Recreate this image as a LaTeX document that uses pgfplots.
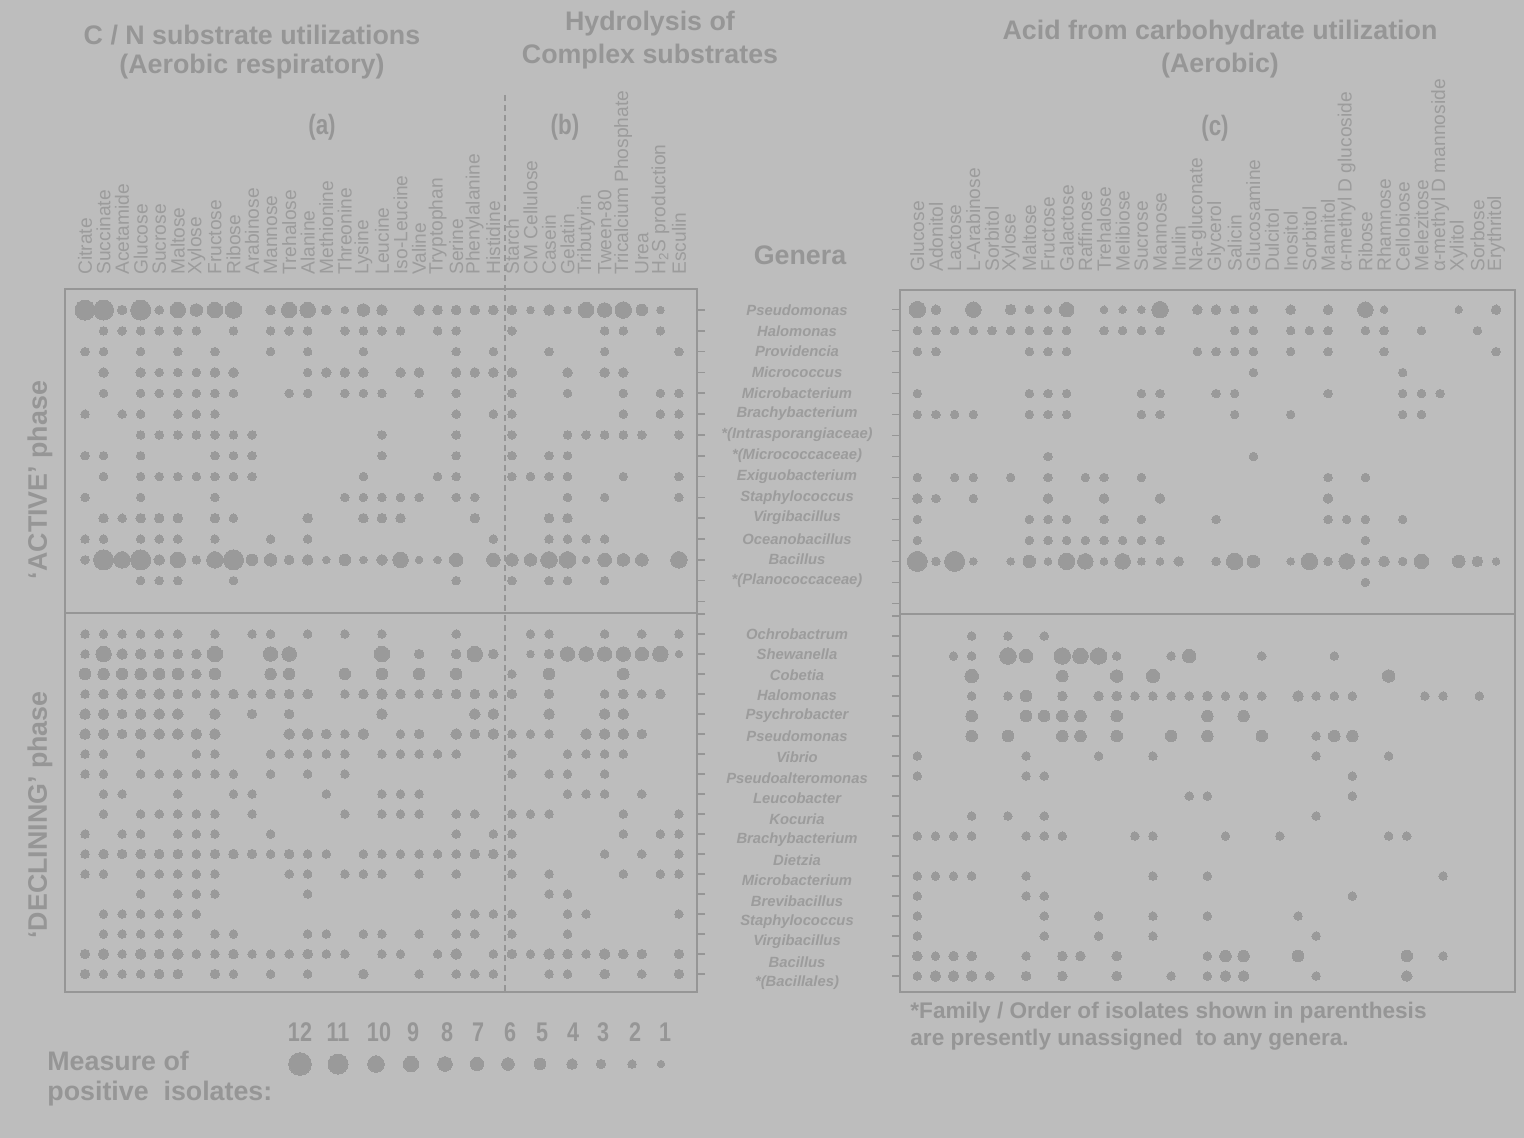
\documentclass[border=0pt]{standalone}
\usepackage{pgfplots}
\pgfplotsset{compat=1.18}
\usepackage{pgfplotstable}
\usepackage{fontspec}
\setmainfont{Liberation Sans}
\newfontfamily\narrowfont[FakeStretch=0.8]{Liberation Sans}
\definecolor{bg}{RGB}{189,189,189}
\definecolor{dotc}{RGB}{154,154,154}
\definecolor{txt}{RGB}{150,150,150}
\definecolor{lbl}{RGB}{156,156,156}
\definecolor{frm}{RGB}{150,150,150}

% left panel, active phase: c = column index (Citrate=0 ... Esculin=32), r = row, v = measure of positive isolates
\pgfplotstableread[row sep=\\]{
c r v\\
0 0 11\\1 0 11\\2 0 3\\3 0 11\\4 0 2\\5 0 9\\6 0 6\\7 0 9\\8 0 10\\10 0 3\\11 0 9\\12 0 9\\13 0 3\\14 0 1\\15 0 6\\16 0 4\\18 0 4\\19 0 3\\20 0 3\\21 0 3\\22 0 3\\23 0 3\\24 0 1\\25 0 4\\26 0 1\\27 0 9\\28 0 8\\29 0 10\\30 0 5\\31 0 1\\
1 1 2\\2 1 2\\3 1 2\\4 1 2\\5 1 2\\6 1 2\\8 1 2\\10 1 2\\11 1 2\\12 1 2\\14 1 2\\15 1 2\\16 1 2\\17 1 2\\19 1 2\\20 1 2\\23 1 2\\28 1 2\\29 1 2\\31 1 2\\
0 2 2\\1 2 2\\3 2 2\\5 2 2\\7 2 2\\10 2 2\\12 2 2\\15 2 2\\20 2 2\\22 2 2\\25 2 2\\28 2 2\\32 2 2\\
1 3 3\\3 3 3\\4 3 2\\5 3 2\\6 3 2\\7 3 3\\8 3 3\\12 3 2\\13 3 3\\14 3 3\\15 3 3\\17 3 3\\18 3 3\\20 3 3\\21 3 3\\22 3 3\\23 3 3\\26 3 3\\28 3 3\\29 3 3\\
1 4 2\\3 4 2\\4 4 2\\5 4 2\\6 4 2\\7 4 2\\8 4 2\\11 4 2\\12 4 2\\14 4 2\\15 4 2\\16 4 2\\18 4 2\\20 4 2\\23 4 2\\26 4 2\\29 4 2\\31 4 2\\32 4 2\\
0 5 2\\2 5 2\\3 5 2\\5 5 2\\6 5 2\\7 5 2\\20 5 2\\22 5 2\\23 5 2\\29 5 2\\31 5 2\\32 5 2\\
3 6 2\\4 6 2\\5 6 2\\6 6 2\\7 6 2\\8 6 2\\9 6 2\\16 6 2\\20 6 2\\23 6 2\\26 6 2\\27 6 2\\28 6 2\\29 6 2\\30 6 2\\32 6 2\\
0 7 2\\1 7 2\\3 7 2\\7 7 2\\8 7 2\\9 7 2\\16 7 2\\20 7 2\\23 7 2\\25 7 2\\26 7 2\\
1 8 2\\3 8 2\\4 8 2\\5 8 2\\6 8 2\\7 8 2\\8 8 2\\9 8 2\\15 8 2\\19 8 2\\20 8 2\\23 8 2\\24 8 2\\25 8 2\\26 8 2\\29 8 2\\32 8 2\\
0 9 2\\3 9 2\\7 9 2\\14 9 2\\15 9 2\\16 9 2\\17 9 2\\18 9 2\\20 9 2\\21 9 2\\26 9 2\\28 9 2\\32 9 2\\
1 10 3\\2 10 2\\3 10 3\\4 10 3\\5 10 3\\7 10 3\\8 10 2\\12 10 3\\15 10 3\\16 10 3\\17 10 3\\21 10 3\\25 10 3\\26 10 3\\
0 11 2\\1 11 2\\3 11 2\\4 11 2\\5 11 2\\7 11 2\\10 11 2\\12 11 2\\22 11 2\\25 11 2\\26 11 2\\27 11 2\\28 11 2\\
0 12 2\\1 12 11\\2 12 10\\3 12 11\\4 12 4\\5 12 9\\6 12 2\\7 12 10\\8 12 11\\9 12 5\\10 12 6\\11 12 3\\12 12 4\\13 12 1\\14 12 5\\15 12 1\\16 12 4\\17 12 9\\18 12 1\\19 12 1\\20 12 7\\22 12 7\\23 12 6\\24 12 6\\25 12 10\\26 12 10\\27 12 1\\28 12 7\\29 12 6\\30 12 6\\32 12 10\\
3 13 2\\4 13 2\\5 13 2\\8 13 2\\20 13 2\\23 13 2\\25 13 2\\26 13 2\\28 13 2\\
}\LA

% left panel, declining phase
\pgfplotstableread[row sep=\\]{
c r v\\
0 0 2\\1 0 2\\2 0 2\\3 0 2\\4 0 2\\5 0 2\\7 0 2\\9 0 2\\10 0 2\\12 0 2\\14 0 2\\16 0 2\\20 0 2\\24 0 2\\25 0 2\\28 0 2\\30 0 2\\32 0 2\\
0 1 2\\1 1 9\\2 1 4\\3 1 4\\4 1 3\\5 1 3\\6 1 3\\7 1 9\\10 1 8\\11 1 8\\16 1 9\\18 1 3\\20 1 3\\21 1 9\\22 1 3\\24 1 1\\25 1 3\\26 1 8\\27 1 8\\28 1 8\\29 1 8\\30 1 7\\31 1 9\\32 1 1\\
0 2 5\\1 2 5\\2 2 5\\3 2 5\\4 2 5\\5 2 5\\6 2 3\\7 2 5\\10 2 5\\11 2 5\\14 2 5\\16 2 5\\18 2 5\\20 2 5\\23 2 2\\25 2 5\\29 2 5\\
0 3 2\\1 3 3\\2 3 4\\3 3 3\\4 3 4\\5 3 3\\6 3 2\\7 3 2\\8 3 3\\9 3 2\\10 3 3\\11 3 3\\12 3 3\\14 3 2\\15 3 3\\16 3 4\\17 3 3\\18 3 2\\19 3 3\\20 3 3\\21 3 3\\22 3 2\\23 3 3\\25 3 3\\28 3 2\\29 3 3\\30 3 2\\31 3 3\\
0 4 4\\1 4 4\\2 4 3\\3 4 4\\4 4 4\\5 4 4\\7 4 4\\9 4 3\\11 4 3\\16 4 4\\21 4 4\\22 4 4\\25 4 4\\28 4 4\\29 4 4\\
0 5 4\\1 5 4\\2 5 3\\3 5 4\\4 5 4\\5 5 4\\6 5 4\\7 5 4\\11 5 4\\12 5 4\\13 5 3\\14 5 2\\15 5 4\\17 5 2\\18 5 3\\20 5 4\\21 5 3\\22 5 4\\23 5 2\\24 5 2\\25 5 2\\27 5 4\\28 5 4\\29 5 4\\30 5 3\\
0 6 2\\1 6 2\\3 6 2\\6 6 2\\7 6 2\\10 6 2\\11 6 2\\12 6 2\\13 6 2\\14 6 2\\16 6 2\\17 6 2\\18 6 2\\19 6 2\\20 6 2\\23 6 2\\26 6 2\\27 6 2\\28 6 2\\29 6 2\\
0 7 2\\1 7 2\\3 7 2\\4 7 2\\5 7 2\\6 7 2\\7 7 2\\8 7 2\\10 7 2\\12 7 2\\14 7 2\\23 7 2\\25 7 2\\26 7 2\\28 7 2\\
1 8 2\\2 8 2\\5 8 2\\8 8 2\\9 8 2\\13 8 2\\16 8 2\\17 8 2\\18 8 2\\26 8 2\\27 8 2\\28 8 2\\30 8 2\\
1 9 2\\3 9 2\\4 9 2\\5 9 2\\6 9 2\\7 9 2\\9 9 2\\14 9 2\\16 9 2\\17 9 2\\18 9 2\\20 9 2\\21 9 2\\23 9 2\\24 9 2\\25 9 2\\29 9 2\\32 9 2\\
0 10 2\\2 10 2\\3 10 2\\5 10 2\\6 10 2\\7 10 2\\10 10 2\\20 10 2\\22 10 2\\23 10 2\\29 10 2\\31 10 2\\32 10 2\\
0 11 2\\1 11 3\\2 11 3\\3 11 3\\4 11 3\\5 11 3\\6 11 2\\7 11 3\\8 11 3\\9 11 3\\10 11 2\\11 11 3\\12 11 2\\13 11 2\\15 11 2\\16 11 2\\17 11 2\\18 11 2\\19 11 2\\20 11 2\\21 11 3\\22 11 3\\23 11 2\\28 11 2\\30 11 2\\32 11 2\\
0 12 2\\1 12 2\\3 12 2\\4 12 2\\5 12 2\\6 12 2\\7 12 2\\11 12 2\\12 12 2\\14 12 2\\15 12 2\\16 12 2\\18 12 2\\20 12 2\\23 12 2\\25 12 2\\29 12 2\\31 12 2\\32 12 2\\
3 13 2\\5 13 2\\6 13 2\\7 13 2\\12 13 2\\25 13 2\\26 13 2\\
1 14 2\\2 14 2\\3 14 2\\4 14 2\\5 14 2\\6 14 2\\20 14 2\\21 14 2\\22 14 2\\23 14 2\\26 14 2\\27 14 2\\32 14 2\\
1 15 2\\2 15 2\\3 15 2\\4 15 2\\5 15 2\\7 15 2\\8 15 2\\12 15 2\\13 15 2\\15 15 2\\16 15 2\\18 15 2\\20 15 2\\21 15 2\\23 15 2\\26 15 2\\
0 16 3\\1 16 4\\2 16 2\\3 16 4\\4 16 3\\5 16 4\\6 16 2\\7 16 2\\8 16 3\\9 16 2\\10 16 2\\11 16 2\\12 16 3\\13 16 2\\14 16 2\\16 16 2\\17 16 2\\19 16 2\\20 16 4\\22 16 2\\23 16 3\\24 16 2\\25 16 4\\26 16 3\\27 16 2\\28 16 4\\29 16 3\\30 16 3\\32 16 3\\
0 17 3\\1 17 2\\2 17 2\\3 17 2\\4 17 3\\5 17 3\\7 17 3\\8 17 2\\10 17 2\\12 17 2\\15 17 3\\18 17 2\\20 17 2\\21 17 2\\22 17 2\\25 17 2\\26 17 2\\28 17 3\\30 17 2\\32 17 3\\
}\LD

% right panel, active phase: c = column index (Glucose=0 ... Erythritol=31)
\pgfplotstableread[row sep=\\]{
c r v\\
0 0 10\\1 0 3\\3 0 9\\5 0 4\\6 0 2\\7 0 1\\8 0 8\\10 0 1\\11 0 1\\12 0 1\\13 0 10\\15 0 3\\16 0 3\\17 0 2\\18 0 2\\20 0 3\\22 0 3\\24 0 9\\25 0 1\\29 0 1\\31 0 3\\
0 1 2\\1 1 2\\2 1 2\\3 1 2\\4 1 2\\5 1 2\\6 1 2\\7 1 2\\8 1 2\\10 1 2\\11 1 2\\12 1 2\\13 1 2\\17 1 2\\18 1 2\\20 1 2\\21 1 2\\22 1 2\\24 1 2\\25 1 2\\27 1 2\\30 1 2\\
0 2 2\\1 2 2\\6 2 2\\7 2 2\\8 2 2\\15 2 2\\16 2 2\\17 2 2\\18 2 2\\20 2 2\\22 2 2\\25 2 2\\31 2 2\\
18 3 2\\26 3 2\\
0 4 2\\6 4 2\\7 4 2\\8 4 2\\12 4 2\\13 4 2\\16 4 2\\17 4 2\\22 4 2\\26 4 2\\27 4 2\\28 4 2\\
0 5 2\\1 5 2\\2 5 2\\3 5 2\\6 5 2\\7 5 2\\8 5 2\\12 5 2\\13 5 2\\17 5 2\\20 5 2\\26 5 2\\27 5 2\\
7 7 2\\18 7 2\\
0 8 2\\2 8 2\\3 8 2\\5 8 2\\7 8 2\\9 8 2\\10 8 2\\12 8 2\\22 8 2\\24 8 2\\
0 9 3\\1 9 2\\3 9 2\\7 9 3\\10 9 3\\13 9 3\\22 9 3\\
0 10 2\\6 10 2\\7 10 2\\8 10 2\\10 10 2\\12 10 2\\16 10 2\\22 10 2\\23 10 2\\24 10 2\\26 10 2\\
0 11 2\\6 11 2\\7 11 2\\8 11 2\\9 11 2\\10 11 2\\11 11 2\\12 11 2\\13 11 2\\24 11 2\\
0 12 11\\1 12 2\\2 12 11\\3 12 1\\5 12 1\\6 12 6\\7 12 1\\8 12 10\\9 12 9\\10 12 1\\11 12 9\\12 12 1\\13 12 1\\14 12 3\\16 12 2\\17 12 10\\18 12 6\\20 12 1\\21 12 10\\22 12 2\\23 12 9\\24 12 2\\25 12 4\\26 12 2\\27 12 8\\29 12 6\\30 12 4\\31 12 1\\
24 13 2\\
}\RA

% right panel, declining phase
\pgfplotstableread[row sep=\\]{
c r v\\
3 0 2\\5 0 2\\7 0 2\\
2 1 2\\3 1 2\\5 1 10\\6 1 7\\8 1 10\\9 1 9\\10 1 10\\11 1 2\\14 1 2\\15 1 7\\19 1 2\\23 1 2\\
3 2 7\\8 2 5\\11 2 6\\13 2 7\\26 2 6\\
3 3 2\\5 3 2\\6 3 5\\8 3 3\\10 3 3\\11 3 3\\12 3 2\\13 3 2\\14 3 2\\15 3 2\\16 3 3\\17 3 2\\18 3 2\\19 3 2\\21 3 4\\22 3 2\\23 3 2\\24 3 2\\28 3 2\\29 3 2\\31 3 2\\
3 4 5\\6 4 5\\7 4 5\\8 4 5\\9 4 5\\11 4 5\\16 4 5\\18 4 5\\
3 5 5\\5 5 5\\8 5 5\\9 5 5\\11 5 5\\14 5 5\\16 5 5\\19 5 5\\22 5 2\\23 5 5\\24 5 5\\
0 6 2\\6 6 2\\10 6 2\\13 6 2\\22 6 2\\26 6 2\\
0 7 2\\6 7 2\\7 7 2\\24 7 2\\
15 8 2\\16 8 2\\24 8 2\\
3 9 2\\5 9 2\\7 9 2\\22 9 2\\
0 10 2\\1 10 2\\2 10 2\\3 10 2\\6 10 2\\7 10 2\\8 10 2\\12 10 2\\13 10 2\\17 10 2\\20 10 2\\26 10 2\\27 10 2\\
0 12 2\\1 12 2\\2 12 2\\3 12 2\\6 12 2\\13 12 2\\16 12 2\\29 12 2\\
0 13 2\\6 13 2\\7 13 2\\24 13 2\\
0 14 2\\7 14 2\\10 14 2\\13 14 2\\16 14 2\\21 14 2\\
0 15 2\\7 15 2\\10 15 2\\13 15 2\\22 15 2\\
0 16 3\\1 16 2\\2 16 3\\3 16 3\\6 16 2\\8 16 3\\9 16 3\\11 16 3\\16 16 2\\17 16 5\\18 16 5\\21 16 5\\27 16 5\\29 16 2\\
0 17 2\\1 17 4\\2 17 4\\3 17 4\\4 17 2\\6 17 3\\8 17 3\\11 17 3\\14 17 2\\16 17 2\\17 17 4\\18 17 4\\22 17 2\\27 17 4\\
}\RD

% legend: x, y in pixel units of the figure, v = measure
\pgfplotstableread[row sep=\\]{
x y v\\
300 1064 12\\338 1064 11\\376 1064 10\\411 1064 9\\445 1064 8\\477 1064 7\\508 1064 6\\540 1064 5\\572 1064 4\\601 1064 3\\632 1064 2\\661 1064 1\\
}\LEG

\pgfplotsset{
  panel/.style={scale only axis, y dir=reverse, axis line style={frm, line width=1pt},
    xtick=\empty, yticklabels={}, tick style={frm, line width=0.8pt},
    major tick length=4pt, tick align=outside, clip=false},
  dots/.style={scatter, only marks, mark=*,
    scatter/use mapped color={draw=dotc, fill=dotc},
    mark options={draw=dotc, fill=dotc, line width=0pt},
    visualization depends on={(\thisrow{v}<10.5 ? (6.5+\thisrow{v})/4 : (\thisrow{v}<11.5 ? 5 : 5.67)) \as \msize},
    scatter/@pre marker code/.append style={/tikz/mark size=\msize pt}},
}

\begin{document}
\begin{tikzpicture}
\begin{scope}[x=0.5pt, y=-0.5pt]
\fill[bg] (0,0) rectangle (1524,1138);
\end{scope}

% left panel, active
\begin{axis}[panel, at={(32.5pt,-144.5pt)}, anchor=north west, width=316pt, height=162pt,
  xmin=-1.078, xmax=32.974, ymin=-1.009, ymax=14.553, ytick={0,...,14}, ytick pos=right]
\addplot[dots] table[x=c, y=r] {\LA};
\end{axis}
% left panel, declining
\begin{axis}[panel, at={(32.5pt,-306.5pt)}, anchor=north west, width=316pt, height=189.5pt,
  xmin=-1.078, xmax=32.974, ymin=-1.05, ymax=17.9, ytick={-1,...,17}, ytick pos=right]
\addplot[dots] table[x=c, y=r] {\LD};
\end{axis}
% right panel, active
\begin{axis}[panel, at={(450pt,-145pt)}, anchor=north west, width=307.5pt, height=162pt,
  xmin=-0.927, xmax=32.014, ymin=-0.939, ymax=14.51, ytick={0,...,14}, ytick pos=left]
\addplot[dots] table[x=c, y=r] {\RA};
\end{axis}
% right panel, declining
\begin{axis}[panel, at={(450pt,-307pt)}, anchor=north west, width=307.5pt, height=189pt,
  xmin=-0.954, xmax=32.97, ymin=-1.1, ymax=17.8, ytick={-1,...,17}, ytick pos=left]
\addplot[dots] table[x=c, y=r] {\RD};
\end{axis}
% legend dots
\begin{axis}[scale only axis, at={(0pt,0pt)}, anchor=north west, width=762pt, height=569pt,
  xmin=0, xmax=1524, ymin=0, ymax=1138, y dir=reverse, hide axis, clip=false]
\addplot[dots] table[x=x, y=y] {\LEG};
\end{axis}

\begin{scope}[x=0.5pt, y=-0.5pt, every node/.style={inner sep=0pt, text=txt}]
\draw[frm, line width=0.8pt, dash pattern=on 3pt off 2pt] (505,95) -- (505,992);
% titles
\begin{scope}[every node/.append style={font=\fontsize{13.4pt}{16pt}\selectfont\bfseries}]
\node at (252,35) {C / N substrate utilizations};
\node at (252,67) {(Aerobic respiratory)};
\node at (650,24) {Hydrolysis of};
\node at (650,57) {Complex substrates};
\node at (1220,33) {Acid from carbohydrate utilization};
\node at (1220,66) {(Aerobic)};
\node at (800,255) {Genera};
\node[rotate=90] at (40,480) {`ACTIVE' phase};
\node[rotate=90] at (40,815) {`DECLINING' phase};
\node[anchor=west] at (47,1061) {Measure of};
\node[anchor=west] at (47,1094) {positive\ \ isolates:};
\end{scope}
\begin{scope}[every node/.append style={font=\fontsize{14pt}{16pt}\narrowfont\bfseries}]
\node at (322,127) {(a)};
\node at (565,127) {(b)};
\node at (1215,128) {(c)};
\end{scope}
\begin{scope}[every node/.append style={font=\fontsize{13.5pt}{16pt}\narrowfont\bfseries}]
\foreach \n/\xx in {12/300,11/338,10/379,9/413,8/447,7/478,6/510,5/542,4/573,3/603,2/635,1/665}
  \node at (\xx,1032) {\n};
\end{scope}
\begin{scope}[every node/.append style={font=\fontsize{11.3pt}{13pt}\selectfont\bfseries, anchor=west}]
\node at (910,1013) {*Family / Order of isolates shown in parenthesis};
\node at (910,1040) {are presently unassigned\ \ to any genera.};
\end{scope}
% column labels
\foreach \n [count=\i from 0] in {Citrate,Succinate,Acetamide,Glucose,Sucrose,Maltose,Xylose,Fructose,Ribose,Arabinose,Mannose,Trehalose,Alanine,Methionine,Threonine,Lysine,Leucine,Iso-Leucine,Valine,Tryptophan,Serine,Phenylalanine,Histidine,Starch,CM Cellulose,Casein,Gelatin,Tributyrin,Tween-80,Tricalcium Phosphate,Urea,{H\textsubscript{2}S production},Esculin}
  \node[rotate=90, anchor=west, text=lbl, font=\fontsize{9.6pt}{11pt}\selectfont] at ({85+18.56*\i},275) {\n};
\foreach \n [count=\i from 0] in {Glucose,Adonitol,Lactose,L-Arabinose,Sorbitol,Xylose,Maltose,Fructose,Galactose,Raffinose,Trehalose,Melibiose,Sucrose,Mannose,Inulin,Na-gluconate,Glycerol,Salicin,Glucosamine,Dulcitol,Inositol,Sorbitol,Mannitol,α-methyl D glucoside,Ribose,Rhamnose,Cellobiose,Melezitose,α-methyl D mannoside,Xylitol,Sorbose,Erythritol}
  \node[rotate=90, anchor=west, text=lbl, font=\fontsize{9.6pt}{11pt}\selectfont] at ({917.3+18.67*\i},272) {\n};
% genera
\foreach \n [count=\i from 0] in {Pseudomonas,Halomonas,Providencia,Micrococcus,Microbacterium,Brachybacterium,*(Intrasporangiaceae),*(Micrococcaceae),Exiguobacterium,Staphylococcus,Virgibacillus,Oceanobacillus,Bacillus,*(Planococcaceae)}
  \node[text=lbl, font=\fontsize{7.4pt}{9pt}\selectfont\bfseries\itshape] at (797,{310+20.8*\i}) {\n};
\foreach \n [count=\i from 0] in {Ochrobactrum,Shewanella,Cobetia,Halomonas,Psychrobacter,Pseudomonas,Vibrio,Pseudoalteromonas,Leucobacter,Kocuria,Brachybacterium,Dietzia,Microbacterium,Brevibacillus,Staphylococcus,Virgibacillus,Bacillus,*(Bacillales)}
  \node[text=lbl, font=\fontsize{7.4pt}{9pt}\selectfont\bfseries\itshape] at (797,{634+20.53*\i}) {\n};
\end{scope}
\end{tikzpicture}
\end{document}
